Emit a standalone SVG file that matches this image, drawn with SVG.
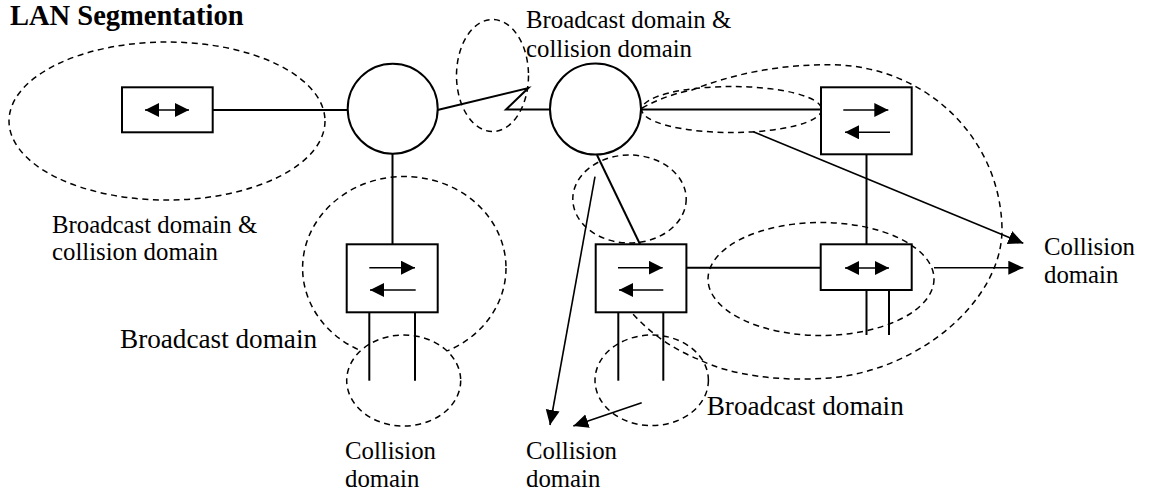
<svg xmlns="http://www.w3.org/2000/svg" width="1149" height="494" viewBox="0 0 1149 494">
<style>
.dash{fill:none;stroke:#000;stroke-width:1.5;stroke-dasharray:6 4.5}
.dashw{fill:#fff;stroke:#000;stroke-width:1.5;stroke-dasharray:6 4.5}
.node{fill:#fff;stroke:#000;stroke-width:2}
.ln{fill:none;stroke:#000;stroke-width:2}
.ar{fill:none;stroke:#000;stroke-width:1.6}
.in{fill:none;stroke:#000;stroke-width:1.6}
.t{font-family:"Liberation Serif","Times New Roman",serif;font-size:24.8px;fill:#000}
.tb{font-family:"Liberation Serif","Times New Roman",serif;font-size:27.2px;fill:#000}
.title{font-family:"Liberation Serif","Times New Roman",serif;font-size:28.5px;font-weight:bold;fill:#000}
</style>
<defs>
<marker id="ah" markerUnits="userSpaceOnUse" markerWidth="16" markerHeight="15" refX="15" refY="7" orient="auto">
<path d="M0,0 L15,7 L0,14 z" fill="#000"/>
</marker>
<marker id="as" markerUnits="userSpaceOnUse" markerWidth="15" markerHeight="15" refX="14" refY="7" orient="auto-start-reverse">
<path d="M0,0 L14,7 L0,14 z" fill="#000"/>
</marker>
</defs>

<text class="title" x="10" y="25">LAN Segmentation</text>

<g id="domains">
<ellipse class="dash" cx="167" cy="121" rx="158" ry="79"/>
<ellipse class="dash" cx="492.5" cy="75.5" rx="36" ry="56"/>
<ellipse class="dash" cx="404.3" cy="268" rx="101.7" ry="91.5"/>
<ellipse class="dash" cx="629.5" cy="199" rx="56.7" ry="44"/>
<ellipse class="dash" cx="731.7" cy="109.5" rx="90" ry="23"/>
<ellipse class="dash" cx="821" cy="279" rx="113" ry="56.5"/>
<path class="dash" d="M642,108 C660,98 680,92 692,90 C730,75 780,63 840,65 C930,70 1000,140 1002,228 C1003,300 920,370 830,378 C780,382 730,375 700,360 C675,350 650,335 625,305"/>
<ellipse class="dashw" cx="403.7" cy="380.5" rx="57" ry="45.5"/>
<ellipse class="dash" cx="651.7" cy="380.3" rx="56.7" ry="45.3"/>
</g>

<g id="connectors">
<line class="ln" x1="213" y1="110" x2="347.5" y2="110"/>
<polyline class="ln" points="437.5,110 528.3,88 506,109.5 550,109.5"/>
<line class="ln" x1="641" y1="109.5" x2="821" y2="109.5"/>
<line class="ln" x1="392.5" y1="154" x2="392.5" y2="244.3"/>
<line class="ln" x1="597" y1="155" x2="640" y2="244.3"/>
<line class="ln" x1="866.5" y1="154.3" x2="866.5" y2="244.3"/>
<line class="ln" x1="686.5" y1="267.7" x2="821" y2="267.7"/>
<line class="ln" x1="369.3" y1="312.3" x2="369.3" y2="380.7"/>
<line class="ln" x1="415" y1="312.3" x2="415" y2="380.7"/>
<line class="ln" x1="618.3" y1="312.3" x2="618.3" y2="380.7"/>
<line class="ln" x1="663.3" y1="312.3" x2="663.3" y2="380.7"/>
<line class="ln" x1="866.5" y1="290" x2="866.5" y2="335"/>
<line class="ln" x1="889" y1="290" x2="889" y2="335"/>
<line class="ar" x1="753.3" y1="131.7" x2="1023.3" y2="243.3" marker-end="url(#ah)"/>
<line class="ar" x1="934" y1="267.7" x2="1023.3" y2="267.7" marker-end="url(#ah)"/>
<line class="ar" x1="595" y1="176.7" x2="550" y2="425" marker-end="url(#ah)"/>
<line class="ar" x1="641.7" y1="402.7" x2="573.3" y2="426" marker-end="url(#ah)"/>
</g>

<g id="repeater1">
<rect class="node" x="122" y="87.3" width="90.7" height="45"/>
<line class="in" x1="145" y1="110" x2="189" y2="110" marker-start="url(#as)" marker-end="url(#as)"/>
</g>
<g id="hub1"><circle class="node" cx="392.7" cy="108.7" r="45"/></g>
<g id="hub2"><circle class="node" cx="595.5" cy="109" r="45.5"/></g>
<g id="switch1">
<rect class="node" x="346.7" y="244.3" width="91" height="68"/>
<line class="in" x1="369.3" y1="267.7" x2="415" y2="267.7" marker-end="url(#as)"/>
<line class="in" x1="415.7" y1="290" x2="370" y2="290" marker-end="url(#as)"/>
</g>
<g id="switch2">
<rect class="node" x="595.7" y="244.3" width="90.7" height="68"/>
<line class="in" x1="618" y1="267.7" x2="662.7" y2="267.7" marker-end="url(#as)"/>
<line class="in" x1="663.3" y1="290" x2="619" y2="290" marker-end="url(#as)"/>
</g>
<g id="switch3">
<rect class="node" x="821" y="87.3" width="90.7" height="67"/>
<line class="in" x1="843.3" y1="110" x2="888.3" y2="110" marker-end="url(#as)"/>
<line class="in" x1="890" y1="132.3" x2="845" y2="132.3" marker-end="url(#as)"/>
</g>
<g id="repeater2">
<rect class="node" x="820.7" y="244.3" width="91" height="45.7"/>
<line class="in" x1="845" y1="268" x2="889" y2="268" marker-start="url(#as)" marker-end="url(#as)"/>
</g>

<g id="labels">
<text class="t" x="52" y="233.3">Broadcast domain &amp;</text>
<text class="t" x="52" y="260">collision domain</text>
<text class="t" x="526" y="28.3">Broadcast domain &amp;</text>
<text class="t" x="526" y="56.7">collision domain</text>
<text class="tb" x="120" y="348.3">Broadcast domain</text>
<text class="tb" x="706.7" y="415">Broadcast domain</text>
<text class="t" x="345" y="459.3">Collision</text>
<text class="t" x="345" y="486.7">domain</text>
<text class="t" x="526" y="459.3">Collision</text>
<text class="t" x="526" y="486.7">domain</text>
<text class="t" x="1044" y="255">Collision</text>
<text class="t" x="1044" y="283.3">domain</text>
</g>
</svg>
